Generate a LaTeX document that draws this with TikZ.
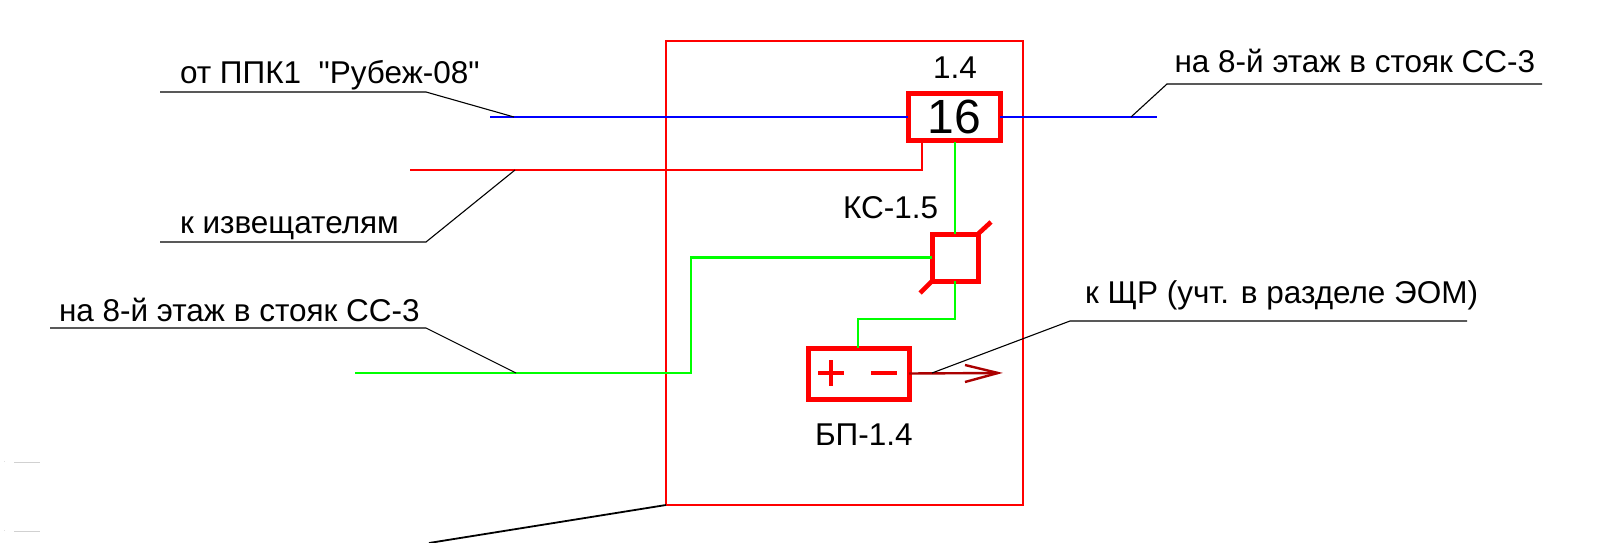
\documentclass[tikz,border=0pt]{standalone}
\usepackage{fontspec}
\setmainfont{Liberation Sans}[Ligatures=TeXOff]
\definecolor{wgreen}{RGB}{0,255,0}
\definecolor{wred}{RGB}{255,0,0}
\definecolor{wblue}{RGB}{0,0,255}
\definecolor{dred}{RGB}{170,0,0}
\tikzset{
  lbl/.style={anchor=base west,inner sep=0pt,outer sep=0pt,font=\fontsize{31.5}{32}\selectfont,text=black},
  leader/.style={draw=black,line width=1.1pt},
  frame/.style={draw=wred,line width=2.4pt,inner sep=0pt,outer sep=0pt},
  thickbox/.style={draw=wred,line width=5pt,inner sep=0pt,outer sep=0pt},
  gw/.style={draw=wgreen,line width=2.6pt},
  rw/.style={draw=wred,line width=2.6pt},
  bw/.style={draw=wblue,line width=2.6pt},
  sym/.style={draw=wred,line width=4.6pt},
}
\begin{document}
\begin{tikzpicture}[x=1pt,y=-1pt]
\useasboundingbox (0,0) rectangle (1618,543);
% enclosure and devices
\node[frame,minimum width=357pt,minimum height=464pt] (frm) at (844.5,273) {};
\node[thickbox,minimum width=92pt,minimum height=46pt,font=\fontsize{48}{48}\selectfont] (ppk) at (954,117) {16};
\node[thickbox,minimum width=46pt,minimum height=47pt] (ks) at (955,257.5) {};
\node[thickbox,minimum width=101pt,minimum height=51pt] (bp) at (858.5,373.5) {};
% free ends
\coordinate (blueL) at (490,117);
\coordinate (blueR) at (1157,117);
\coordinate (redL) at (410,170);
\coordinate (greenL) at (355,373);
\coordinate (arrowEnd) at (998,373);
% wires
\draw[bw] (blueL) -- (ppk.west);
\draw[bw] (ppk.east) -- (blueR);
\draw[rw] (redL) -- (922,170) -- (922,140);
\draw[gw] (955,142) -- (ks.north);
\draw[gw] (ks.west) -- (691,257.5) -- (691,373) -- (greenL);
\draw[gw] (ks.south) -- (955,319) -- (858,319) -- (858,348);
% ks ticks
\draw[sym] (978,234) -- (991,222);
\draw[sym] (932,281) -- (920,293);
% plus / minus
\draw[sym] (818,373) -- (844,373);
\draw[sym] (831,360) -- (831,386);
\draw[sym] (871,373) -- (897,373);
% arrow
\draw[draw=dred,line width=2.4pt] (bp.east) -- (arrowEnd);
\draw[draw=dred,line width=2.4pt] (965,365) -- (arrowEnd) -- (965,382);
% leaders
\draw[leader] (160,92) -- (426,92) -- (514,117);
\draw[leader] (160,242) -- (426,242) -- (515,170);
\draw[leader] (50,328) -- (426,328) -- (516,373);
\draw[leader] (1131,117) -- (1167,84) -- (1542,84);
\draw[leader] (932,373) -- (1070,321) -- (1467,321);
\draw[draw=black,line width=1.8pt] (frm.south west) -- (429,543);
% faint marks
\draw[draw=black!18,line width=0.8pt] (14,462) -- (40,462);
\draw[draw=black!18,line width=0.8pt] (14,531) -- (40,531);
\draw[draw=black!12,line width=0.8pt] (4,461) -- (5,461);
\draw[draw=black!12,line width=0.8pt] (4,530) -- (5,530);
% labels
\node[lbl] (t1) at (180,84) {от ППК1\ \ "Рубеж-08"};
\node[lbl] (t2) at (180,233) {к извещателям};
\node[lbl] (t3) at (59,321.5) {на 8-й этаж в стояк СС-3};
\node[lbl] (t4) at (1174.5,73) {на 8-й этаж в стояк СС-3};
\node[lbl] (t5) at (933,78) {1.4};
\node[lbl] (t6) at (843,218) {КС-1.5};
\node[lbl] (t7) at (815,445) {БП-1.4};
\node[lbl] (t8) at (1085,303) {к ЩР (учт. в разделе ЭОМ)};
\end{tikzpicture}
\end{document}
